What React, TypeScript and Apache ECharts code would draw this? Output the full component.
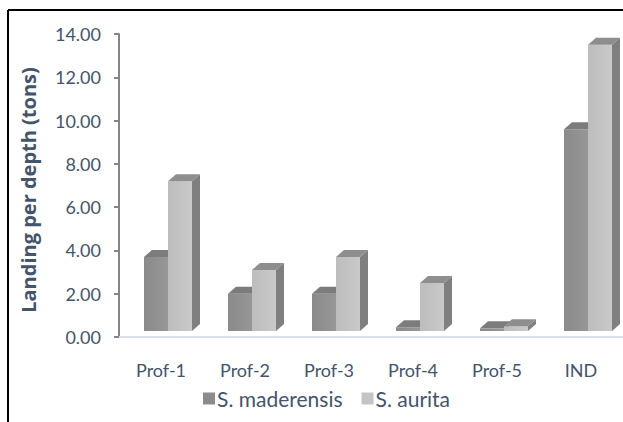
import React, { useEffect, useRef } from "react";
import * as echarts from "echarts";

const categories = ["Prof-1", "Prof-2", "Prof-3", "Prof-4", "Prof-5", "IND"];
const maderensis = [3.7, 2.0, 2.0, 0.45, 0.4, 9.6];
const aurita = [7.2, 3.1, 3.7, 2.5, 0.5, 13.5];
const seriesNames = ["S. maderensis", "S. aurita"];
const yTitle = "Landing per depth (tons)";

const TEXT = "#44546A";

function make3DRender(offset: number, front: string[], side: string, topc: string) {
  return (params: any, api: any) => {
    const idx = api.value(0);
    const v = api.value(1);
    const top = api.coord([idx, v]);
    const base = api.coord([idx, 0]);
    const w = 24;
    const dx = 8;
    const dy = 7;
    const x0 = top[0] + offset;
    const x1 = x0 + w;
    const yb = base[1] - 6;
    const yt = Math.min(top[1], yb - 1);
    return {
      type: "group",
      children: [
        {
          type: "rect",
          shape: { x: x0, y: yt, width: w, height: yb - yt },
          style: {
            fill: new echarts.graphic.LinearGradient(0, 0, 1, 0, [
              { offset: 0, color: front[0] },
              { offset: 1, color: front[1] },
            ]),
          },
        },
        {
          type: "polygon",
          shape: { points: [[x1, yt], [x1 + dx, yt - dy], [x1 + dx, yb - dy], [x1, yb]] },
          style: { fill: side },
        },
        {
          type: "polygon",
          shape: { points: [[x0, yt], [x0 + dx, yt - dy], [x1 + dx, yt - dy], [x1, yt]] },
          style: { fill: topc },
        },
      ],
    };
  };
}

export default function App() {
  const ref = useRef<HTMLDivElement>(null);
  useEffect(() => {
    if (!ref.current) return;
    const chart = echarts.init(ref.current, null, { renderer: "svg" });
    chart.setOption({
      animation: false,
      backgroundColor: "#ffffff",
      grid: { left: 119, right: 0, top: 34, bottom: 85, containLabel: false },
      legend: {
        left: 203,
        top: 388,
        padding: 0,
        itemWidth: 12,
        itemHeight: 12,
        itemGap: 19,
        icon: "rect",
        textStyle: { fontFamily: "Lato", fontSize: 21, color: TEXT, padding: [0, 0, 0, -3] },
        data: seriesNames,
      },
      xAxis: {
        type: "category",
        data: categories,
        boundaryGap: true,
        axisLine: { show: true, lineStyle: { color: "#D9DFE8", width: 2 } },
        axisTick: { show: false },
        axisLabel: { fontFamily: "Lato", fontSize: 18, color: TEXT, margin: 24 },
        splitLine: { show: false },
      },
      yAxis: {
        type: "value",
        min: 0,
        max: 14,
        interval: 2,
        axisLine: { show: true, lineStyle: { color: "#868686", width: 2 } },
        axisTick: { show: true, length: 5, lineStyle: { color: "#868686", width: 2 } },
        axisLabel: {
          fontFamily: "Lato",
          fontSize: 18,
          color: TEXT,
          margin: 18,
          formatter: (v: number) => v.toFixed(2),
        },
        splitLine: { show: false },
      },
      graphic: [
        {
          type: "line",
          shape: { x1: 8, y1: 10, x2: 623, y2: 10 },
          style: { stroke: "#000000", lineWidth: 2 },
        },
        {
          type: "line",
          shape: { x1: 8, y1: 10, x2: 8, y2: 422 },
          style: { stroke: "#000000", lineWidth: 2 },
        },
        {
          type: "text",
          x: 28,
          y: 190,
          rotation: Math.PI / 2,
          style: {
            text: yTitle,
            fontFamily: "Open Sans",
            fontWeight: "bold",
            fontSize: 20,
            fill: TEXT,
            textAlign: "center",
            textVerticalAlign: "middle",
          },
        },
      ],
      series: [
        {
          name: seriesNames[0],
          type: "custom",
          itemStyle: { color: "#8C8C8C" },
          renderItem: make3DRender(-17, ["#8A8A8A", "#979797"], "#6E6E6E", "#7C7C7C"),
          data: categories.map((_, i) => [i, maderensis[i]]),
          encode: { x: 0, y: 1 },
        },
        {
          name: seriesNames[1],
          type: "custom",
          itemStyle: { color: "#C4C4C4" },
          renderItem: make3DRender(7, ["#BDBDBD", "#C9C9C9"], "#7F7F7F", "#8E8E8E"),
          data: categories.map((_, i) => [i, aurita[i]]),
          encode: { x: 0, y: 1 },
        },
      ],
    });
    return () => chart.dispose();
  }, []);
  return (
    <div
      ref={ref}
      style={{ position: "fixed", left: 0, top: 0, width: 623, height: 422 }}
    />
  );
}
